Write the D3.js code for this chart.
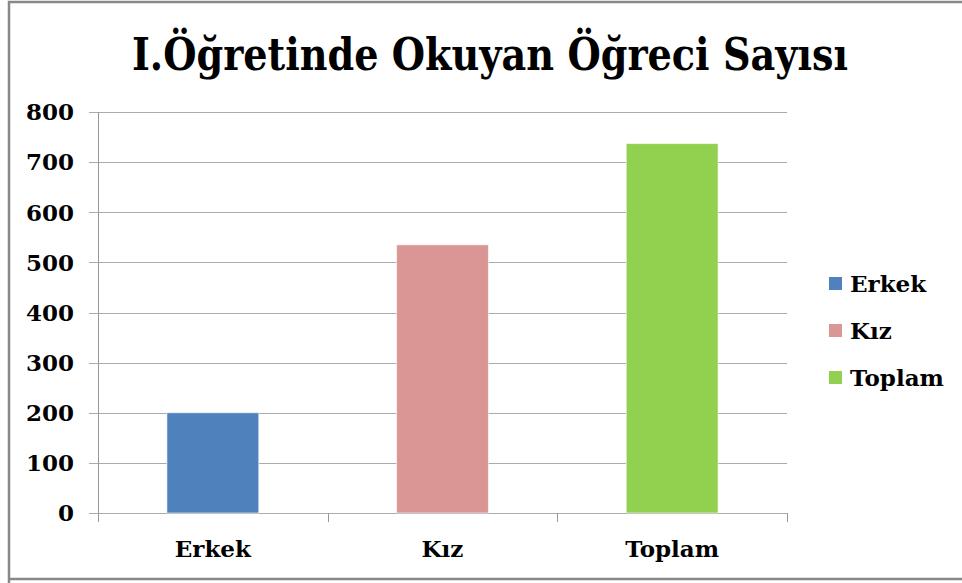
<!DOCTYPE html>
<html>
<head>
<meta charset="utf-8">
<script src="https://cdn.jsdelivr.net/npm/d3@7"></script>
<style>
  body { margin: 0; background: #fff; }
  text { font-family: "DejaVu Serif", serif; font-weight: bold; fill: #000; }
</style>
</head>
<body>
<div id="chart"></div>
<script>
var title = "I.Öğretinde Okuyan Öğreci Sayısı";
var categories = ["Erkek", "Kız", "Toplam"];
var values = [200, 535, 737];
var colors = ["#4f81bd", "#d99694", "#92d050"];
var yTicks = [0, 100, 200, 300, 400, 500, 600, 700, 800];

var width = 962, height = 583;
var plotLeft = 98, plotRight = 787, plotTop = 112, plotBottom = 513;

var svg = d3.select("#chart")
    .append("svg")
    .attr("width", width)
    .attr("height", height);

// outer border (cut off on the right)
svg.append("path")
    .attr("d", "M9,583 V2 H962 M9,579 H962")
    .attr("fill", "none")
    .attr("stroke", "#888")
    .attr("stroke-width", 2.5);

svg.append("text")
    .attr("x", 132)
    .attr("y", 70)
    .attr("textLength", 716)
    .attr("lengthAdjust", "spacingAndGlyphs")
    .style("font-family", "'DejaVu Serif Condensed', 'DejaVu Serif', serif")
    .style("font-size", "45px")
    .text(title);

var x = d3.scaleBand()
    .domain(categories)
    .range([plotLeft, plotRight])
    .paddingInner(0.6)
    .paddingOuter(0.3);

var y = d3.scaleLinear()
    .domain([0, 800])
    .range([plotBottom, plotTop]);

// gridlines
svg.append("g")
    .selectAll("line")
    .data(yTicks)
    .enter().append("line")
    .attr("x1", plotLeft - 9)
    .attr("x2", plotRight)
    .attr("y1", function (d) { return Math.round(y(d)) + 0.5; })
    .attr("y2", function (d) { return Math.round(y(d)) + 0.5; })
    .attr("stroke", "#ababab")
    .attr("stroke-width", 1.2);

// y labels
svg.append("g")
    .selectAll("text")
    .data(yTicks)
    .enter().append("text")
    .attr("x", 74)
    .attr("y", function (d) { return y(d); })
    .attr("dy", "0.36em")
    .attr("text-anchor", "end")
    .style("font-size", "23px")
    .text(function (d) { return d; });

// y axis line
svg.append("line")
    .attr("x1", plotLeft + 0.5).attr("x2", plotLeft + 0.5)
    .attr("y1", plotTop).attr("y2", plotBottom + 0.5)
    .attr("stroke", "#999");

// category ticks between bands
var step = x.step();
var catTicks = [plotLeft, plotLeft + step, plotLeft + 2 * step, plotRight];
svg.append("g")
    .selectAll("line")
    .data(catTicks)
    .enter().append("line")
    .attr("x1", function (d) { return Math.round(d) + 0.5; })
    .attr("x2", function (d) { return Math.round(d) + 0.5; })
    .attr("y1", plotBottom)
    .attr("y2", plotBottom + 9)
    .attr("stroke", "#999");

// bars
svg.append("g")
    .selectAll("rect")
    .data(values)
    .enter().append("rect")
    .attr("x", function (d, i) { return x(categories[i]); })
    .attr("y", function (d) { return y(d); })
    .attr("width", x.bandwidth())
    .attr("height", function (d) { return plotBottom - y(d); })
    .attr("fill", function (d, i) { return colors[i]; })
    .attr("stroke", "#fff")
    .attr("stroke-opacity", 0.6)
    .attr("stroke-width", 1);

// category labels
svg.append("g")
    .selectAll("text")
    .data(categories)
    .enter().append("text")
    .attr("x", function (d) { return x(d) + x.bandwidth() / 2; })
    .attr("y", 557)
    .attr("text-anchor", "middle")
    .style("font-size", "23px")
    .text(function (d) { return d; });

// legend
var legend = svg.append("g")
    .selectAll("g")
    .data(categories)
    .enter().append("g")
    .attr("transform", function (d, i) { return "translate(829," + (284 + i * 47) + ")"; });

legend.append("rect")
    .attr("x", 0)
    .attr("y", -7)
    .attr("width", 13)
    .attr("height", 13)
    .attr("fill", function (d, i) { return colors[i]; });

legend.append("text")
    .attr("x", 21)
    .attr("y", 0)
    .attr("dy", "0.36em")
    .style("font-size", "23px")
    .text(function (d) { return d; });
</script>
</body>
</html>
